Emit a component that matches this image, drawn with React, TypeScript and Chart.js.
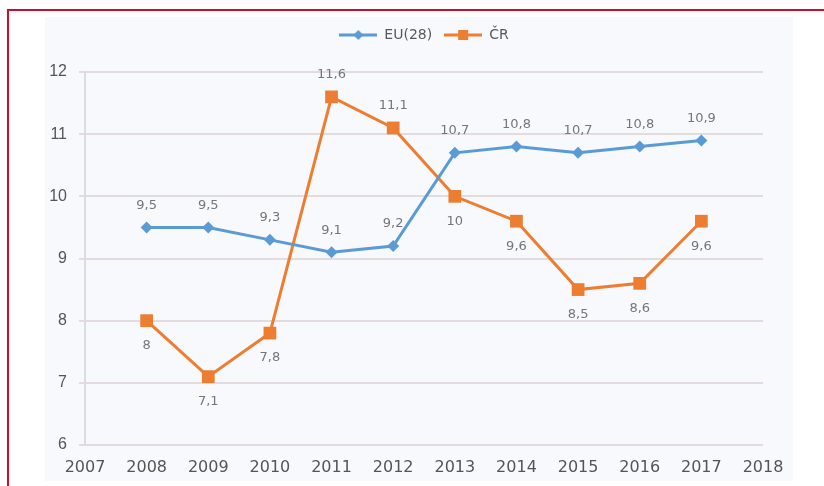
import React, { useEffect, useRef } from 'react';
import { Chart, registerables } from 'chart.js';

Chart.register(...registerables);

// ---- Data ----
const years = [2008, 2009, 2010, 2011, 2012, 2013, 2014, 2015, 2016, 2017];
const euValues = [9.5, 9.5, 9.3, 9.1, 9.2, 10.7, 10.8, 10.7, 10.8, 10.9];
const crValues = [8, 7.1, 7.8, 11.6, 11.1, 10, 9.6, 8.5, 8.6, 9.6];
const seriesNames = ['EU(28)', 'ČR'];
const euLabelSides = ['above', 'above', 'above', 'above', 'above', 'above', 'above', 'above', 'above', 'above'];
const crLabelSides = ['below', 'below', 'below', 'above', 'above', 'below', 'below', 'below', 'below', 'below'];
const xRange = [2007, 2018];
const yRange = [6, 12];

const BLUE = '#5b9bd5';
const ORANGE = '#ed7d31';

function makeLegendIcon(color: string, marker: 'diamond' | 'square'): HTMLCanvasElement {
  const c = document.createElement('canvas');
  c.width = 38;
  c.height = 14;
  const g = c.getContext('2d')!;
  g.strokeStyle = color;
  g.lineWidth = 3;
  g.beginPath();
  g.moveTo(0, 7);
  g.lineTo(38, 7);
  g.stroke();
  g.fillStyle = color;
  g.beginPath();
  if (marker === 'diamond') {
    g.moveTo(19, 2);
    g.lineTo(24, 7);
    g.lineTo(19, 12);
    g.lineTo(14, 7);
    g.closePath();
  } else {
    g.rect(14, 2, 10, 10);
  }
  g.fill();
  return c;
}

const valueLabelPlugin = {
  id: 'valueLabels',
  afterDatasetsDraw(chart: any) {
    const ctx = chart.ctx;
    ctx.save();
    ctx.font = '13px "DejaVu Sans"';
    ctx.fillStyle = '#767676';
    ctx.textAlign = 'center';
    ctx.textBaseline = 'middle';
    chart.data.datasets.forEach((ds: any, i: number) => {
      const meta = chart.getDatasetMeta(i);
      meta.data.forEach((pt: any, j: number) => {
        const v = ds.data[j].y;
        const text = String(v).replace('.', ',');
        const dy = ds.labelSides[j] === 'above' ? -22 : 25;
        ctx.fillText(text, pt.x, pt.y + dy);
      });
    });
    ctx.restore();
  },
};

// Gives the legend extra room below it and centres it over the plot area.
const legendPlacementPlugin = {
  id: 'legendPlacement',
  beforeInit(chart: any) {
    const legend = chart.legend;
    if (!legend) return;
    const origFit = legend.fit;
    legend.fit = function () {
      origFit.call(this);
      this.height = 56;
    };
    const origDraw = legend.draw;
    legend.draw = function () {
      const ctx = this.ctx;
      const area = chart.chartArea;
      const shift = area ? (area.left + area.right) / 2 - (this.left + this.right) / 2 : 0;
      ctx.save();
      ctx.translate(shift, 0);
      origDraw.call(this);
      ctx.restore();
    };
  },
};

export default function App() {
  const canvasRef = useRef<HTMLCanvasElement | null>(null);

  useEffect(() => {
    document.body.style.margin = '0';
    const canvas = canvasRef.current;
    if (!canvas) return;
    const icons = [makeLegendIcon(BLUE, 'diamond'), makeLegendIcon(ORANGE, 'square')];

    const chart = new Chart(canvas, {
      type: 'line',
      data: {
        datasets: [
          {
            label: seriesNames[0],
            data: years.map((x, i) => ({ x, y: euValues[i] })),
            borderColor: BLUE,
            backgroundColor: BLUE,
            borderWidth: 3,
            pointStyle: 'rectRot',
            pointRadius: 6,
            pointBorderWidth: 0,
            pointBackgroundColor: BLUE,
            tension: 0,
            labelSides: euLabelSides,
          } as any,
          {
            label: seriesNames[1],
            data: years.map((x, i) => ({ x, y: crValues[i] })),
            borderColor: ORANGE,
            backgroundColor: ORANGE,
            borderWidth: 3,
            pointStyle: 'rect',
            pointRadius: 9,
            pointBorderWidth: 0,
            pointBackgroundColor: ORANGE,
            tension: 0,
            labelSides: crLabelSides,
          } as any,
        ],
      },
      options: {
        responsive: false,
        animation: false,
        devicePixelRatio: 1,
        layout: { padding: { top: 16, right: 61, bottom: 0, left: 0 } },
        plugins: {
          tooltip: { enabled: false },
          legend: {
            position: 'top',
            align: 'center',
            labels: {
              usePointStyle: true,
              pointStyleWidth: 38,
              padding: 12,
              color: '#595959',
              font: { family: '"DejaVu Sans"', size: 14 },
              generateLabels: (ch: any) => {
                const items = Chart.defaults.plugins.legend.labels.generateLabels(ch);
                return items.map((it: any, i: number) => ({ ...it, pointStyle: icons[i] }));
              },
            },
          },
        },
        scales: {
          x: {
            type: 'linear',
            min: xRange[0],
            max: xRange[1],
            afterFit: (s: any) => {
              s.height = 41;
            },
            grid: { display: false, drawTicks: false },
            border: { display: false },
            ticks: {
              stepSize: 1,
              padding: 13,
              color: '#555555',
              font: { family: '"DejaVu Sans"', size: 16 },
              callback: (v: any) => String(v),
              maxRotation: 0,
            },
          },
          y: {
            min: yRange[0],
            max: yRange[1],
            afterFit: (s: any) => {
              s.width = 85;
            },
            grid: { color: '#e3dcdc', lineWidth: 2, tickLength: 6 },
            border: { display: true, color: '#dcdcdc', width: 2 },
            ticks: {
              stepSize: 1,
              padding: 12,
              color: '#555555',
              font: { family: '"Liberation Sans"', size: 16 },
            },
          },
        },
      } as any,
      plugins: [legendPlacementPlugin, valueLabelPlugin],
    });
    return () => chart.destroy();
  }, []);

  return (
    <div style={{ position: 'relative', width: 824, height: 486, background: '#ffffff', overflow: 'hidden' }}>
      <div style={{ position: 'absolute', left: 45, top: 17, width: 748, height: 464, background: '#f7f9fc' }} />
      <div style={{ position: 'absolute', left: 7, top: 9, width: 817, height: 2, background: '#c8102e' }} />
      <div style={{ position: 'absolute', left: 7, top: 9, width: 2, height: 477, background: '#c8102e' }} />
      <canvas ref={canvasRef} width={824} height={486} style={{ position: 'absolute', left: 0, top: 0 }} />
    </div>
  );
}
